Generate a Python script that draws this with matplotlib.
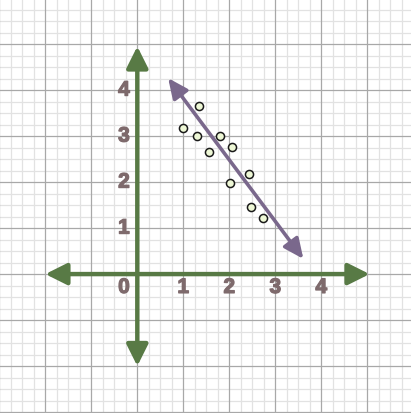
import matplotlib
matplotlib.use("Agg")
import matplotlib.pyplot as plt
import matplotlib.patheffects as pe
from matplotlib.patches import FancyArrowPatch
import numpy as np

# scatter data
x_vals = [1.0, 1.35, 1.3, 1.55, 1.8, 2.05, 2.02, 2.43, 2.47, 2.73]
y_vals = [3.17, 3.66, 3.01, 2.66, 3.01, 2.77, 1.98, 2.17, 1.46, 1.22]

# line of fit (arrow end points)
fit_x = [0.67, 3.61]
fit_y = [4.26, 0.33]

# axis labels
x_ticks = [0, 1, 2, 3, 4]
y_ticks = [1, 2, 3, 4]
axis_min, axis_max = -2, 5.05

green = "#587a45"
purple = "#7a688c"
label_col = "#7e6a6c"

fig = plt.figure(figsize=(4.11, 4.14), dpi=100)
ax = fig.add_axes([0, 0, 1, 1])
ax.set_xlim(-2.985, 5.95)
ax.set_ylim(-3.02, 5.98)
ax.axis("off")

# graph paper grid
for v in np.arange(-3, 6.01, 0.25):
    major = abs(v - round(v)) < 1e-9
    c = "#a8a8a8" if major else "#e2e2e2"
    ax.axvline(v, color=c, lw=0.9, zorder=1 if major else 0)
    ax.axhline(v, color=c, lw=0.9, zorder=1 if major else 0)

# axes with arrows
ax.add_patch(FancyArrowPatch((axis_min, 0), (axis_max, 0),
                             arrowstyle="<|-|>,head_length=13,head_width=6.5",
                             color=green, lw=3.2, shrinkA=0, shrinkB=0, zorder=3))
ax.add_patch(FancyArrowPatch((0, axis_min), (0, 4.95),
                             arrowstyle="<|-|>,head_length=13,head_width=6.5",
                             color=green, lw=3.2, shrinkA=0, shrinkB=0, zorder=3))

# tick labels (stroke makes them heavier, like the original)
thick = [pe.withStroke(linewidth=0.9, foreground=label_col)]
for k in x_ticks:
    xx = -0.29 if k == 0 else k
    ax.text(xx, -0.29, str(k), color=label_col, fontsize=15, fontweight="bold",
            family="Liberation Sans", ha="center", va="center", zorder=4,
            path_effects=thick)
for k in y_ticks:
    ax.text(-0.29, k, str(k), color=label_col, fontsize=15, fontweight="bold",
            family="Liberation Sans", ha="center", va="center", zorder=4,
            path_effects=thick)

# fit line
ax.add_patch(FancyArrowPatch((fit_x[0], fit_y[0]), (fit_x[1], fit_y[1]),
                             arrowstyle="<|-|>,head_length=12,head_width=5.5",
                             color=purple, lw=2.6, shrinkA=0, shrinkB=0, zorder=4))

ax.scatter(x_vals, y_vals, s=34, facecolor="#eef8d6", edgecolor="#1a1a1a",
           linewidth=1.1, zorder=5)

fig.savefig("out.png", dpi=100)
